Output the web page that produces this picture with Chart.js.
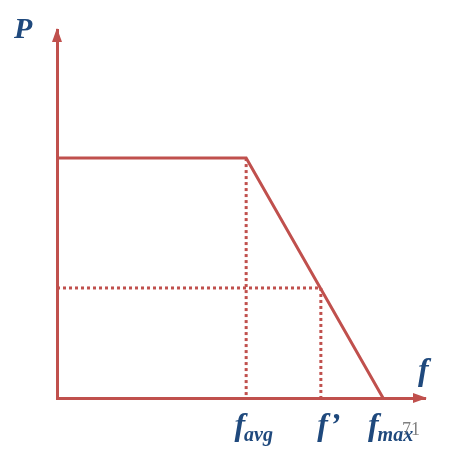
<!DOCTYPE html>
<html>
<head>
<meta charset="utf-8">
<script src="https://cdn.jsdelivr.net/npm/chart.js@4/dist/chart.umd.min.js"></script>
<style>
  html, body { margin: 0; padding: 0; background: #fff; }
  #box { width: 467px; height: 452px; }
</style>
</head>
<body>
<div id="box"><canvas id="grafico"></canvas></div>
<script>
// valores (eixos de 0 a 10)
const fAvg = 5.14;
const fLinha = 7.17;
const fMax = 8.86;
const pTopo = 6.52;
const pLinha = 2.99;

const curvaX = [0, fAvg, fMax];
const curvaY = [pTopo, pTopo, 0];
const tickBase = ['f', 'f', 'f'];
const tickSub = ['avg', '', 'max'];
const tickSufixo = ['', '\u2019', ''];
const tickValores = [fAvg, fLinha, fMax];

const vermelho = '#C0504D';
const azul = '#1F497D';
const serif = '"Liberation Serif", "DejaVu Serif", serif';

function pontos(xs, ys) {
  return xs.map((x, i) => ({ x: x, y: ys[i] }));
}

const setas = {
  id: 'setas',
  afterDraw(chart) {
    const c = chart.ctx;
    const a = chart.chartArea;
    const sx = chart.scales.x;
    c.save();
    c.fillStyle = vermelho;
    // seta eixo y
    c.beginPath();
    c.moveTo(a.left, a.top - 2);
    c.lineTo(a.left - 5, a.top + 12);
    c.lineTo(a.left + 5, a.top + 12);
    c.closePath();
    c.fill();
    // seta eixo x
    c.beginPath();
    c.moveTo(a.right + 2, a.bottom);
    c.lineTo(a.right - 12, a.bottom - 5);
    c.lineTo(a.right - 12, a.bottom + 5);
    c.closePath();
    c.fill();

    c.fillStyle = azul;
    c.textBaseline = 'alphabetic';
    c.font = 'italic bold 30px ' + serif;
    c.textAlign = 'left';
    c.fillText('P', 14, 38);
    c.font = 'italic bold 32px ' + serif;
    c.fillText('f', 418, 380);

    // rótulos do eixo x
    tickValores.forEach((v, i) => {
      const px = sx.getPixelForValue(v);
      c.font = 'italic bold 32px ' + serif;
      const w1 = c.measureText(tickBase[i] + tickSufixo[i]).width;
      c.font = 'italic bold 20px ' + serif;
      const w2 = c.measureText(tickSub[i]).width;
      let x0 = px + 8 - (w1 + w2) / 2;
      c.font = 'italic bold 32px ' + serif;
      c.fillText(tickBase[i] + tickSufixo[i], x0, 435);
      c.font = 'italic bold 20px ' + serif;
      c.fillText(tickSub[i], x0 + w1 - 1, 441);
    });

    c.fillStyle = '#808080';
    c.font = '18px ' + serif;
    c.fillText('71', 402, 435);
    c.restore();
  }
};

const ctx = document.getElementById('grafico').getContext('2d');
const grafico = new Chart(ctx, {
  type: 'scatter',
  data: {
    datasets: [
      {
        data: pontos(curvaX, curvaY),
        showLine: true,
        borderColor: vermelho,
        borderWidth: 3,
        pointRadius: 0
      },
      {
        data: pontos([0, fLinha], [pLinha, pLinha]),
        showLine: true,
        borderColor: vermelho,
        borderWidth: 3,
        borderDash: [3, 3],
        pointRadius: 0
      },
      {
        data: pontos([fAvg, fAvg], [pTopo, 0]),
        showLine: true,
        borderColor: vermelho,
        borderWidth: 3,
        borderDash: [3, 3],
        pointRadius: 0
      },
      {
        data: pontos([fLinha, fLinha], [pLinha, 0]),
        showLine: true,
        borderColor: vermelho,
        borderWidth: 3,
        borderDash: [3, 3],
        pointRadius: 0
      }
    ]
  },
  options: {
    responsive: true,
    maintainAspectRatio: false,
    animation: false,
    layout: { padding: { left: 57, top: 30, right: 42, bottom: 54 } },
    plugins: { legend: { display: false }, tooltip: { enabled: false } },
    scales: {
      x: {
        type: 'linear', min: 0, max: 10,
        grid: { display: false, drawTicks: false },
        border: { display: true, color: vermelho, width: 3 },
        ticks: { display: false }
      },
      y: {
        type: 'linear', min: 0, max: 10,
        grid: { display: false, drawTicks: false },
        border: { display: true, color: vermelho, width: 3 },
        ticks: { display: false }
      }
    }
  },
  plugins: [setas]
});
</script>
</body>
</html>
